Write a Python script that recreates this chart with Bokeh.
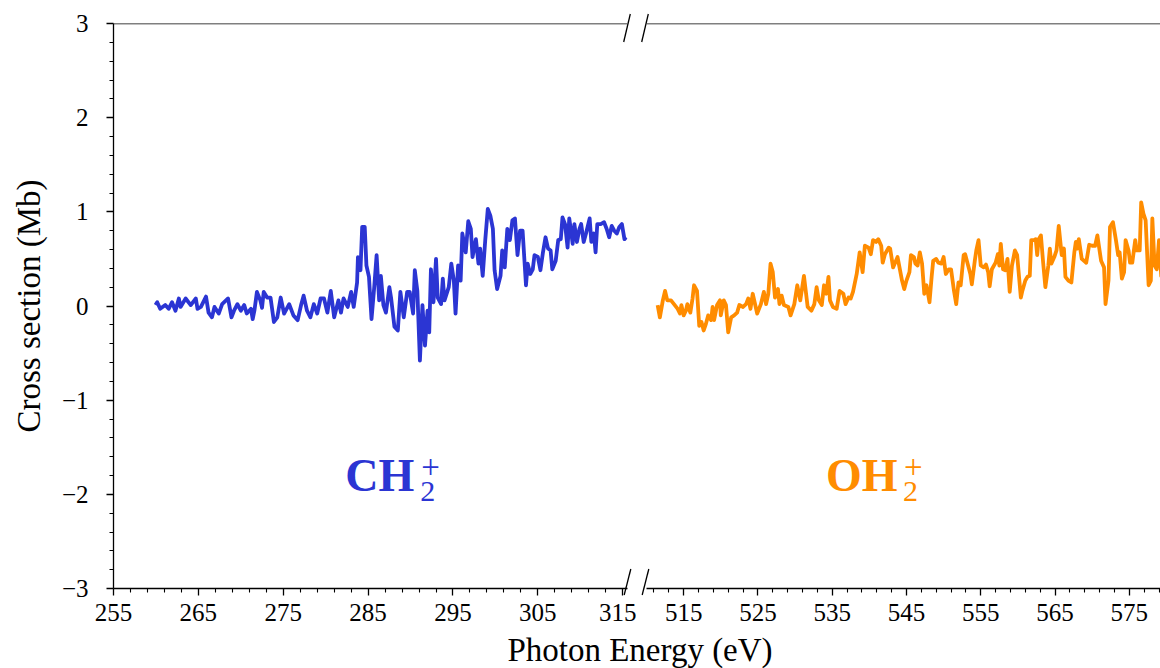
from bokeh.plotting import figure
from bokeh.layouts import row, column
from bokeh.models import Range1d, FixedTicker, Label, Span, Div
from bokeh.embed import file_html
from bokeh.resources import INLINE

# ---------------- data ----------------
ch2_energy = [259.95, 260.15, 260.5, 261.1, 261.5, 261.9, 262.3, 262.7, 262.9, 263.5, 264.1, 264.7, 264.9,
              265.3, 265.9, 266.2, 266.6, 266.9, 267.4, 267.8, 268.5, 268.9, 269.2, 269.6, 270.0, 270.4,
              270.7, 271.2, 271.4, 271.6, 271.9, 272.3, 272.5, 272.7, 273.1, 273.5, 273.9, 274.3, 274.7,
              275.1, 275.7, 276.2, 276.7, 277.1, 277.4, 277.8, 278.2, 278.6, 279.0, 279.4, 279.8, 280.2,
              280.6, 281.0, 281.5, 281.8, 282.1, 282.6, 283.0, 283.3, 283.7, 283.8, 284.1, 284.3, 284.6,
              284.8, 285.1, 285.4, 285.7, 286.0, 286.3, 286.5, 286.8, 287.1, 287.5, 287.7, 288.1, 288.5,
              288.8, 289.2, 289.6, 289.9, 290.3, 290.5, 290.8, 291.1, 291.4, 291.7, 292.0, 292.2, 292.4,
              292.7, 293.0, 293.2, 293.6, 293.8, 294.0, 294.5, 294.8, 295.1, 295.3, 295.6, 295.9, 296.1,
              296.5, 296.8, 297.1, 297.3, 297.7, 298.0, 298.2, 298.5, 298.8, 299.1, 299.4, 299.7, 299.9,
              300.2, 300.6, 300.8, 301.1, 301.4, 301.7, 302.0, 302.3, 302.6, 302.9, 303.2, 303.6, 303.8,
              304.1, 304.4, 304.6, 305.0, 305.3, 305.6, 305.9, 306.2, 306.5, 306.7, 307.1, 307.4, 307.7,
              307.9, 308.2, 308.5, 308.7, 308.9, 309.1, 309.3, 309.6, 309.9, 310.1, 310.4, 310.7, 311.1,
              311.3, 311.6, 311.8, 312.0, 312.4, 312.8, 313.1, 313.4, 313.7, 314.0, 314.3, 314.6, 314.9,
              315.2, 315.4]
ch2_xs = [0.01, 0.04, -0.03, 0.01, -0.03, 0.04, -0.05, 0.08, -0.01, 0.08, 0.01, 0.08, -0.03,
          -0.01, 0.10, -0.07, -0.12, -0.01, -0.08, 0.02, 0.08, -0.12, -0.05, 0.02, -0.05, 0.01,
          -0.08, -0.03, -0.14, -0.05, 0.15, 0.06, -0.02, 0.15, 0.09, 0.09, -0.17, -0.12, 0.09,
          -0.08, 0.02, -0.10, -0.15, 0.01, 0.11, -0.05, -0.12, 0.02, -0.08, 0.08, 0.08, -0.07,
          0.16, -0.12, 0.06, -0.07, 0.08, -0.01, 0.15, -0.01, 0.25, 0.52, 0.38, 0.84, 0.84,
          0.43, 0.31, -0.14, 0.18, 0.54, 0.06, 0.32, 0.01, -0.07, 0.20, 0.09, -0.22, -0.26,
          0.15, -0.12, 0.15, 0.15, -0.08, 0.38, 0.16, -0.58, 0.01, -0.42, -0.05, -0.28, 0.39,
          0.04, 0.50, 0.09, 0.02, 0.29, 0.06, 0.20, 0.45, 0.27, -0.08, 0.43, 0.27, 0.77,
          0.57, 0.90, 0.82, 0.52, 0.71, 0.45, 0.61, 0.32, 0.70, 1.03, 0.96, 0.82, 0.38,
          0.18, 0.32, 0.59, 0.41, 0.82, 0.70, 0.91, 0.93, 0.54, 0.80, 0.80, 0.22, 0.45,
          0.34, 0.39, 0.54, 0.52, 0.38, 0.57, 0.73, 0.61, 0.59, 0.39, 0.48, 0.70, 0.71,
          0.94, 0.87, 0.62, 0.93, 0.80, 0.66, 0.87, 0.68, 0.82, 0.87, 0.68, 0.78, 0.93,
          0.68, 0.77, 0.57, 0.87, 0.87, 0.89, 0.82, 0.73, 0.85, 0.80, 0.77, 0.84, 0.87,
          0.71, 0.73]

oh2_energy = [511.5, 511.8, 512.2, 512.5, 512.8, 513.3, 513.7, 514.2, 514.5, 514.7, 515.0, 515.3, 515.5,
              515.9, 516.2, 516.4, 516.8, 517.1, 517.4, 517.7, 518.0, 518.3, 518.7, 518.9, 519.1, 519.5,
              519.9, 520.0, 520.4, 520.7, 521.0, 521.4, 521.8, 522.2, 522.5, 523.0, 523.4, 523.7, 524.0,
              524.3, 524.9, 525.4, 525.8, 526.1, 526.4, 526.7, 527.0, 527.3, 527.7, 527.9, 528.2, 528.5,
              529.1, 529.4, 529.9, 530.3, 530.7, 531.2, 531.7, 532.2, 532.6, 532.9, 533.2, 533.6, 533.9,
              534.2, 534.5, 534.7, 535.1, 535.6, 536.0, 536.5, 536.8, 537.2, 537.5, 537.8, 538.3, 538.7,
              539.1, 539.4, 539.9, 540.2, 540.5, 540.9, 541.2, 541.6, 541.8, 542.1, 542.6, 542.8, 543.2,
              543.8, 544.4, 544.7, 545.0, 545.4, 545.6, 546.0, 546.2, 546.5, 546.8, 547.1, 547.4, 547.7,
              548.1, 548.4, 548.6, 549.0, 549.3, 549.7, 550.0, 550.3, 550.7, 551.0, 551.4, 551.7, 552.0,
              552.3, 552.7, 552.9, 553.3, 553.6, 553.8, 554.2, 554.4, 554.7, 555.0, 555.4, 555.7, 556.0,
              556.2, 556.5, 557.0, 557.3, 557.5, 557.7, 558.0, 558.3, 558.6, 558.9, 559.2, 559.6, 559.9,
              560.4, 560.6, 561.0, 561.3, 561.6, 561.8, 562.2, 562.4, 562.6, 562.8, 563.1, 563.4, 563.7,
              564.1, 564.3, 564.5, 564.9, 565.2, 565.5, 565.9, 566.2, 566.4, 566.8, 567.2, 567.6, 567.8,
              568.0, 568.2, 568.6, 568.9, 569.2, 569.6, 570.0, 570.4, 570.7, 571.2, 571.6, 571.8, 572.2,
              572.4, 572.8, 573.2, 573.5, 573.7, 574.0, 574.3, 574.5, 574.9, 575.1, 575.4, 575.8, 576.0,
              576.4, 576.6, 576.9, 577.2, 577.6, 577.9, 578.1, 578.4, 578.7, 579.0, 579.3, 579.5]
oh2_xs = [0.01, -0.12, 0.06, 0.16, 0.06, 0.06, 0.02, -0.03, -0.08, 0.01, -0.10, -0.05, 0.02,
          -0.07, 0.08, 0.22, 0.16, -0.21, -0.17, -0.26, -0.19, -0.10, -0.15, -0.01, -0.15, 0.01,
          0.06, -0.10, 0.06, 0.01, -0.28, -0.12, -0.10, -0.07, 0.01, -0.01, 0.02, 0.08, -0.03,
          0.13, -0.08, 0.02, 0.15, 0.02, 0.13, 0.45, 0.36, 0.09, 0.18, 0.02, 0.11, 0.01,
          -0.01, -0.10, 0.02, 0.22, 0.06, 0.32, -0.01, -0.05, 0.02, 0.20, 0.06, 0.01, 0.22,
          0.13, 0.31, 0.06, -0.01, -0.03, 0.16, 0.13, 0.02, 0.09, 0.08, 0.15, 0.34, 0.57,
          0.36, 0.64, 0.62, 0.55, 0.70, 0.68, 0.71, 0.64, 0.46, 0.55, 0.62, 0.61, 0.41,
          0.52, 0.27, 0.18, 0.27, 0.36, 0.54, 0.52, 0.45, 0.43, 0.57, 0.45, 0.13, 0.22,
          0.04, 0.32, 0.48, 0.50, 0.46, 0.45, 0.52, 0.34, 0.39, 0.39, 0.16, 0.02, 0.25,
          0.22, 0.54, 0.55, 0.43, 0.34, 0.23, 0.48, 0.59, 0.70, 0.43, 0.41, 0.44, 0.36,
          0.21, 0.39, 0.46, 0.55, 0.43, 0.66, 0.39, 0.38, 0.50, 0.15, 0.43, 0.59, 0.54,
          0.09, 0.16, 0.27, 0.31, 0.32, 0.70, 0.70, 0.71, 0.54, 0.71, 0.75, 0.46, 0.20,
          0.43, 0.61, 0.45, 0.52, 0.59, 0.85, 0.54, 0.61, 0.31, 0.27, 0.25, 0.57, 0.68,
          0.61, 0.71, 0.50, 0.48, 0.46, 0.65, 0.64, 0.64, 0.75, 0.48, 0.41, 0.02, 0.27,
          0.84, 0.89, 0.70, 0.54, 0.57, 0.29, 0.36, 0.70, 0.59, 0.46, 0.46, 0.70, 0.59,
          0.59, 1.10, 0.98, 0.91, 0.22, 0.27, 0.93, 0.43, 0.39, 0.70, 0.32, 0.73]

left_xticks = [255, 265, 275, 285, 295, 305, 315]
left_xminor = [257, 259, 261, 263, 267, 269, 271, 273, 277, 279, 281, 283, 287, 289, 291, 293,
               297, 299, 301, 303, 307, 309, 311, 313]
right_xticks = [515, 525, 535, 545, 555, 565, 575]
right_xminor = [511, 513, 517, 519, 521, 523, 527, 529, 531, 533, 537, 539, 541, 543, 547, 549,
                551, 553, 557, 559, 561, 563, 567, 569, 571, 573, 577, 579]
yticks = [-3, -2, -1, 0, 1, 2, 3]
yminor = [-2.8, -2.6, -2.4, -2.2, -1.8, -1.6, -1.4, -1.2, -0.8, -0.6, -0.4, -0.2,
          0.2, 0.4, 0.6, 0.8, 1.2, 1.4, 1.6, 1.8, 2.2, 2.4, 2.6, 2.8]
ytick_labels = {-3: "\u22123", -2: "\u22122", -1: "\u22121", 0: "0", 1: "1", 2: "2", 3: "3"}

BLUE = "#2b35d3"
ORANGE = "#ff8c00"
FONT = "Liberation Serif"

LEFT_RANGE = (255, 315.56)
RIGHT_RANGE = (510, 579.2)
Y_RANGE = (-3, 3)

# layout geometry (pixels)
BORDER_LEFT, FRAME_W, GAP_L, GAP_R = 113, 514, 9, 10
BORDER_TOP, FRAME_H, BORDER_BOTTOM = 23, 565, 50
FIG_H = BORDER_TOP + FRAME_H + BORDER_BOTTOM
LEFT_W = BORDER_LEFT + FRAME_W + GAP_L
RIGHT_W = GAP_R + FRAME_W
TOTAL_W = LEFT_W + RIGHT_W
LABEL_H = 30


def style_axis(ax, size="25px", standoff=8):
    ax.axis_line_color = "black"
    ax.axis_line_width = 1.3
    ax.major_tick_line_color = "black"
    ax.minor_tick_line_color = "black"
    ax.major_tick_line_width = 1.3
    ax.minor_tick_line_width = 1.1
    ax.major_tick_out = 7
    ax.major_tick_in = 0
    ax.minor_tick_out = 4
    ax.minor_tick_in = 0
    ax.major_label_text_font = FONT
    ax.major_label_text_font_size = size
    ax.major_label_text_color = "black"
    ax.major_label_standoff = standoff


left = figure(width=LEFT_W, height=FIG_H, x_range=Range1d(*LEFT_RANGE), y_range=Range1d(*Y_RANGE),
              output_backend="svg", toolbar_location=None,
              min_border_left=BORDER_LEFT, min_border_right=GAP_L,
              min_border_top=BORDER_TOP, min_border_bottom=BORDER_BOTTOM)
right = figure(width=RIGHT_W, height=FIG_H, x_range=Range1d(*RIGHT_RANGE), y_range=Range1d(*Y_RANGE),
               output_backend="svg", toolbar_location=None, y_axis_location=None,
               min_border_left=GAP_R, min_border_right=0,
               min_border_top=BORDER_TOP, min_border_bottom=BORDER_BOTTOM)

for p in (left, right):
    p.grid.visible = False
    p.outline_line_color = None
    p.background_fill_color = "white"
    p.border_fill_color = "white"
    style_axis(p.xaxis[0])
    p.add_layout(Span(location=Y_RANGE[1], dimension="width", line_color="black", line_width=1.3))

left.xaxis[0].ticker = FixedTicker(ticks=left_xticks, minor_ticks=left_xminor)
right.xaxis[0].ticker = FixedTicker(ticks=right_xticks, minor_ticks=right_xminor)

ya = left.yaxis[0]
style_axis(ya, standoff=18)
ya.ticker = FixedTicker(ticks=yticks, minor_ticks=yminor)
ya.major_label_overrides = ytick_labels
ya.axis_label = "Cross section (Mb)"
ya.axis_label_text_font = FONT
ya.axis_label_text_font_size = "33px"
ya.axis_label_text_font_style = "normal"
ya.axis_label_text_color = "black"
ya.axis_label_standoff = 12

left.line(ch2_energy, ch2_xs, line_color=BLUE, line_width=3.8, line_join="round")
right.line(oh2_energy, oh2_xs, line_color=ORANGE, line_width=3.8, line_join="round")

# species labels
LABEL_Y = -1.80
def species(p, x, base, color, sub_dx):
    p.add_layout(Label(x=x, y=LABEL_Y, text=base, text_font=FONT, text_font_style="bold",
                       text_font_size="46px", text_color=color, text_baseline="alphabetic"))
    p.add_layout(Label(x=x, y=LABEL_Y, x_offset=sub_dx, y_offset=-16, text="2", text_font=FONT,
                       text_font_size="30px", text_color=color, text_baseline="alphabetic"))
    p.add_layout(Label(x=x, y=LABEL_Y, x_offset=sub_dx + 1, y_offset=9, text="+", text_font=FONT,
                       text_font_size="33px", text_color=color, text_baseline="alphabetic"))

species(left, 282.3, "CH", BLUE, 75)
species(right, 534.15, "OH", ORANGE, 77)

# axis-break marks: drawn in an overlay svg (they cross the frame edges)
def slash(xc, ycen_line, up, down):
    return ('<line x1="%.1f" y1="%.1f" x2="%.1f" y2="%.1f" stroke="black" stroke-width="1.3"/>'
            % (xc - 3.3, ycen_line + down, xc + 3.3, ycen_line - up))

frame_top = BORDER_TOP
frame_bot = BORDER_TOP + FRAME_H
xl = BORDER_LEFT + FRAME_W
xr = LEFT_W + GAP_R - 1
marks = "".join([
    slash(xl, frame_top, 9, 19), slash(xr, frame_top, 9, 19),
    slash(xl + 0.5, frame_bot, 19, 7), slash(xr + 0.5, frame_bot, 19, 7),
])
overlay = ('<svg width="%d" height="%d" style="position:absolute;margin-top:-%dpx;'
           'overflow:visible;pointer-events:none">%s</svg>' % (TOTAL_W, FIG_H + LABEL_H, FIG_H, marks))

xlabel = Div(text=overlay +
             '<div style="width:1040px;margin-left:120px;margin-top:-3px;text-align:center;'
             'font-family:\'Liberation Serif\';font-size:33px;line-height:30px;color:black;">'
             'Photon Energy (eV)</div>',
             width=TOTAL_W, height=LABEL_H, margin=(0, 0, 0, 0))

layout = column(row(left, right, spacing=0), xlabel, spacing=0)
open("out.html", "w").write(file_html(layout, INLINE))
